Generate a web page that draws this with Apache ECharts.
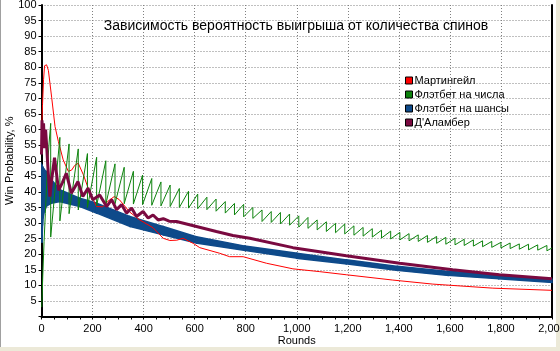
<!DOCTYPE html>
<html>
<head>
<meta charset="utf-8">
<script src="https://cdn.jsdelivr.net/npm/echarts@6/dist/echarts.min.js"></script>
<style>
  html, body { margin: 0; padding: 0; background: #ece9d8; }
  #main { width: 560px; height: 351px; }
</style>
</head>
<body>
<div id="main"></div>
<script>
// Мартингейл
var red = [[0,58],[4,68],[8,76],[12,80.5],[20,80.8],[27,79],[40,70.2],[53,61],[66,56.2],[85,50.3],
  [105,46.6],[118,47],[130,48.5],[144,49.2],[164,45.5],[190,39.6],[216,35.3],[240,35.2],[260,37],
  [285,38.5],[305,37.5],[346,33.5],[385,31],[437,28.5],[477,25.1],[503,24.4],[530,24.5],[555,25.1],
  [594,23.5],[620,22.1],[698,20.3],[737,19.2],[790,19.2],[881,17.1],[985,15.3],[1090,14.4],
  [1194,13.4],[1376,11.7],[1533,10.4],[1768,9.1],[2000,8.4]];

// Д'Аламбер
var maroon = [[0,52],[2,63],[5,57],[8,62],[12,54],[16,60],[20,55],[25,48],[33,38.5],[40,44],[51,51],
  [67,40.5],[82,43],[97,46],[117,39.6],[143,43.3],[162,38.5],[182,41.2],[201,37.5],[228,39],
  [255,35.3],[275,37.5],[294,34.3],[314,35.9],[333,33.2],[353,34.8],[372,32.1],[398,33.7],
  [418,31.6],[437,32.6],[457,31],[477,31.4],[500,30.6],[529,30.5],[568,29.7],[607,28.9],
  [685,27.3],[750,26],[816,25.1],[985,22.1],[1194,19.5],[1403,17.1],[1611,15],[1794,13.4],[2000,12.1]];

// Флэтбет на числа: first rise, then each drop round with value before / after the drop
var greenStart = [[1,3],[5,13],[10,24],[15,33],[20,42],[25,50],[30,56]];
var greenDrops = [36,72,108,144,180,216,252,288,324,360,396,432,468,504,540,576,612,648,684,720,
  756,792,828,864,900,936,972,1008,1044,1080,1116,1152,1188,1224,1260,1296,1332,1368,1404,1440,
  1476,1512,1548,1584,1620,1656,1692,1728,1764,1800,1836,1872,1908,1944,1980];
var greenPeaks = [62,57.5,55.4,53.8,52.3,51.1,50,49,47.9,46.6,45.4,44.3,43.2,42.2,41.1,40.2,39.3,
  38.3,37.7,36.9,36.3,36,35,34.2,33.7,33.4,32.9,32.3,31.8,31,30.4,29.9,29.7,29.1,28.6,28.2,27.7,
  27.4,27,26.6,26.2,26,25.7,25.4,25.1,24.8,24.6,24.3,24.1,23.8,23.6,23.3,23.2,23,22.8];
var greenTroughs = [25.5,30.7,33,34.2,35,35.6,36,36.2,36.2,36.1,35.9,35.7,35.5,35.3,35,34.8,34.6,
  34.3,33.8,33.2,32.6,32,31.5,30.5,30.2,29.7,29.3,28.7,28.3,27.8,27.3,26.9,26.5,26.1,25.8,25.5,
  25.2,24.9,24.6,24.3,24.1,23.8,23.5,23.2,23,22.8,22.6,22.4,22.2,22,21.8,21.6,21.4,21.3,21.1];
var greenEnd = [2000, 22];

// Флэтбет на шансы: band between odd / even round values
var blueRounds = [1,2,4,6,10,20,40,72,150,216,346,477,607,796,1000,1194,1394,1593,1791,2000];
var blueUpper = [48.6,48.5,48.1,47.8,47.3,46.3,43.8,40.7,38,36.4,32.1,28.9,25.6,22.6,20.3,18.2,16.1,14.5,13.4,12];
var blueLower = [48.6,23.7,29.2,31.5,33.5,35.5,36.4,36.9,35.3,33.2,28.9,26.2,23.6,21.2,18.7,16.9,14.8,13.2,12.1,10.9];

var names = ['Мартингейл', 'Флэтбет на числа', 'Флэтбет на шансы', 'Д\'Аламбер'];
var colors = ['#ff0000', '#0c820c', '#0e4a8a', '#7a0a40'];
var font = 'Liberation Sans';

var green = greenStart.slice();
for (var i = 0; i < greenDrops.length; i++) {
  green.push([greenDrops[i], greenPeaks[i]]);
  green.push([greenDrops[i], greenTroughs[i]]);
}
green.push(greenEnd);

var band = [];
for (var j = 0; j < blueRounds.length; j++) {
  band.push([blueRounds[j], blueUpper[j], blueLower[j]]);
}

// one quad per segment of the band, positioned by the axes
function renderBand(params, api) {
  var k = params.dataIndex;
  if (k === 0) return;
  var a = band[k - 1], b = band[k];
  var pts = [
    api.coord([a[0], a[1]]), api.coord([b[0], b[1]]),
    api.coord([b[0], b[2]]), api.coord([a[0], a[2]])
  ];
  return {
    type: 'polygon',
    shape: { points: pts },
    style: { fill: colors[2], stroke: colors[2], lineWidth: 1.5 }
  };
}

var chart = echarts.init(document.getElementById('main'));
var dotted = { color: '#808080', width: 1, type: [1, 2] };

chart.setOption({
  animation: false,
  backgroundColor: '#fff',
  textStyle: { fontFamily: font },
  title: {
    text: 'Зависимость вероятность выигрыша от количества спинов',
    left: 296, textAlign: 'center', top: 19, padding: 0,
    textStyle: { fontFamily: font, fontSize: 14, fontWeight: 'normal', color: '#000' }
  },
  legend: {
    data: names,
    orient: 'vertical',
    left: 400, top: 70,
    itemWidth: 7, itemHeight: 7, itemGap: 3,
    icon: 'rect',
    itemStyle: { borderColor: '#000', borderWidth: 1 },
    textStyle: { fontFamily: font, fontSize: 11, color: '#000', padding: [0, 0, 0, -3] }
  },
  graphic: [
    { type: 'rect', shape: { x: 0, y: 0, width: 1, height: 351 }, style: { fill: '#a0a0a0' } },
    { type: 'rect', shape: { x: 556, y: 0, width: 4, height: 351 }, style: { fill: '#ece9d8' } },
    { type: 'rect', shape: { x: 0, y: 347, width: 560, height: 4 }, style: { fill: '#ece9d8' } }
  ],
  grid: { left: 41.5, right: 8, top: 5, bottom: 34.5, containLabel: false, outerBoundsMode: 'none' },
  xAxis: {
    type: 'value', min: 0, max: 2000, interval: 200,
    name: 'Rounds', nameLocation: 'middle', nameGap: 19, nameMoveOverlap: false,
    nameTextStyle: { fontFamily: font, fontSize: 11, color: '#000' },
    axisLine: { lineStyle: { color: '#000', width: 2 } },
    axisTick: { length: 3, lineStyle: { color: '#000' } },
    minorTick: { show: true, splitNumber: 4, length: 3, lineStyle: { color: '#000' } },
    splitLine: { show: true, lineStyle: dotted },
    axisLabel: {
      fontFamily: font, fontSize: 11, color: '#000', margin: 7,
      formatter: function (v) { return v.toLocaleString('en-US'); }
    }
  },
  yAxis: [{
    type: 'value', min: 0, max: 100, interval: 5,
    name: 'Win Probability, %', nameLocation: 'middle', nameGap: 26, nameMoveOverlap: false,
    nameTextStyle: { fontFamily: font, fontSize: 11, color: '#000' },
    axisLine: { show: true, lineStyle: { color: '#000', width: 2 } },
    axisTick: { show: true, length: 3, lineStyle: { color: '#000' } },
    splitLine: { show: true, lineStyle: dotted },
    axisLabel: {
      fontFamily: font, fontSize: 11, color: '#000', margin: 5,
      formatter: function (v) { return v === 0 ? '' : v; }
    }
  }, {
    type: 'value', min: 0, max: 100, position: 'right',
    axisLine: { show: true, lineStyle: { color: '#000', width: 2 } },
    axisTick: { show: false }, axisLabel: { show: false }, splitLine: { show: false }
  }],
  series: [
    {
      name: names[2], type: 'custom', renderItem: renderBand, data: band,
      encode: { x: 0, y: [1, 2] }, itemStyle: { color: colors[2] }
    },
    {
      name: names[0], type: 'line', data: red, symbol: 'none',
      lineStyle: { color: colors[0], width: 1 }, itemStyle: { color: colors[0] }
    },
    {
      name: names[1], type: 'line', data: green, symbol: 'none',
      lineStyle: { color: colors[1], width: 1 }, itemStyle: { color: colors[1] }
    },
    {
      name: names[3], type: 'line', data: maroon, symbol: 'none',
      lineStyle: { color: colors[3], width: 3 }, itemStyle: { color: colors[3] }
    }
  ]
});
</script>
</body>
</html>
